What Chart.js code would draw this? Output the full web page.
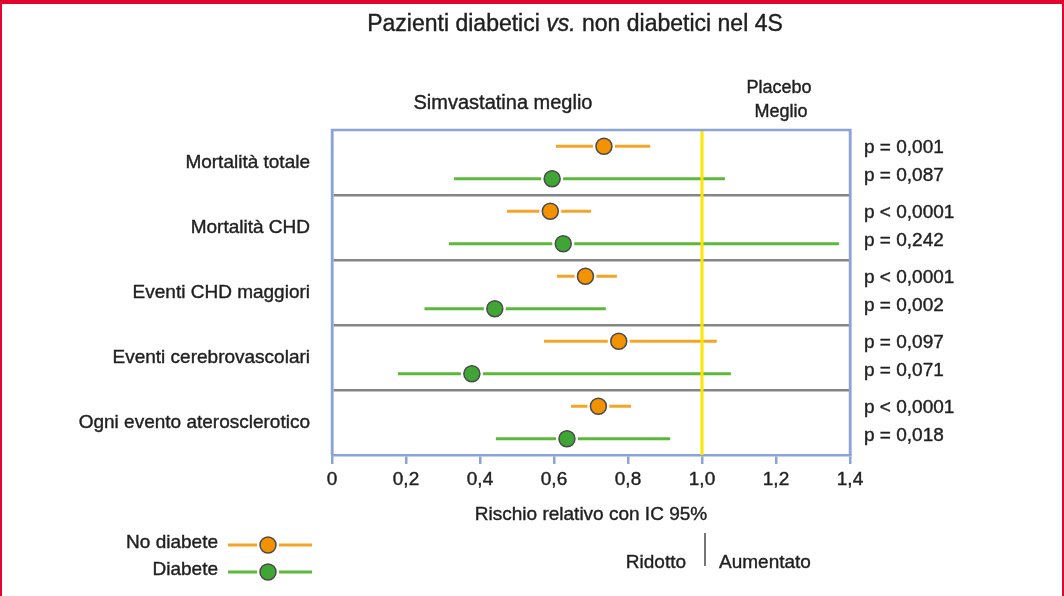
<!DOCTYPE html>
<html>
<head>
<meta charset="utf-8">
<script src="https://cdn.jsdelivr.net/npm/chart.js@4"></script>
<style>
  html, body { margin: 0; padding: 0; background: #fff; }
  #wrap { position: relative; width: 1064px; height: 596px; }
  #frame { position: absolute; left: 0; top: 0; width: 1064px; height: 596px; box-sizing: border-box;
           border-top: 4px solid #e2052d; border-left: 2px solid #e2052d; border-right: 2px solid #e2052d;
           pointer-events: none; }
</style>
</head>
<body>
<div id="wrap">
  <canvas id="forest" width="1064" height="596"></canvas>
  <div id="frame"></div>
</div>
<script>
const outcomes = ['Mortalità totale', 'Mortalità CHD', 'Eventi CHD maggiori', 'Eventi cerebrovascolari', 'Ogni evento aterosclerotico'];

// no diabete (orange)
const noDiabRR = [0.735, 0.59, 0.685, 0.775, 0.72];
const noDiabLo = [0.605, 0.473, 0.608, 0.573, 0.646];
const noDiabHi = [0.86, 0.70, 0.77, 1.04, 0.808];
const noDiabP = ['p = 0,001', 'p < 0,0001', 'p < 0,0001', 'p = 0,097', 'p < 0,0001'];

// diabete (green)
const diabRR = [0.595, 0.625, 0.44, 0.378, 0.635];
const diabLo = [0.33, 0.316, 0.25, 0.178, 0.443];
const diabHi = [1.062, 1.37, 0.74, 1.078, 0.914];
const diabP = ['p = 0,087', 'p = 0,242', 'p = 0,002', 'p = 0,071', 'p = 0,018'];

const xTicks = [0, 0.2, 0.4, 0.6, 0.8, 1.0, 1.2, 1.4];
const refValue = 1.0;

const ORANGE = '#f39200', ORANGE_LINE = '#f6a428';
const GREEN = '#3fa535', GREEN_LINE = '#5cb83a';
const BLUE = '#8aa3d8';
const TEXT = '#1f1f1f';
const FONT = "'Liberation Sans', Arial, sans-serif";

// orange sits in the upper quarter of each band, green in the lower quarter
const rowNo = outcomes.map((_, i) => i + 0.25);
const rowDi = outcomes.map((_, i) => i + 0.75);

const ciSets = [];
outcomes.forEach((_, i) => {
  ciSets.push({
    type: 'line', order: 3,
    data: [{ x: noDiabLo[i], y: rowNo[i] }, { x: noDiabHi[i], y: rowNo[i] }],
    borderColor: ORANGE_LINE, borderWidth: 3, pointRadius: 0
  });
  ciSets.push({
    type: 'line', order: 3,
    data: [{ x: diabLo[i], y: rowDi[i] }, { x: diabHi[i], y: rowDi[i] }],
    borderColor: GREEN_LINE, borderWidth: 3, pointRadius: 0
  });
});

const allPoints = noDiabRR.map((v, i) => ({ x: v, y: rowNo[i] }))
  .concat(diabRR.map((v, i) => ({ x: v, y: rowDi[i] })));

const datasets = [
  {
    type: 'scatter', order: 0,
    data: allPoints,
    pointRadius: 8, pointBorderWidth: 1.5, pointBorderColor: '#4a4a4a',
    pointBackgroundColor: allPoints.map((_, i) => i < noDiabRR.length ? ORANGE : GREEN)
  },
  {
    // white halo so the CI line stops short of the marker
    type: 'scatter', order: 1,
    data: allPoints,
    pointRadius: 11, pointBorderWidth: 0, pointBackgroundColor: '#ffffff'
  },
  {
    type: 'line', order: 2,
    data: [{ x: refValue, y: 0 }, { x: refValue, y: outcomes.length }],
    borderColor: '#ffe600', borderWidth: 3, pointRadius: 0
  }
].concat(ciSets);

// p-value labels on the right axis
const pLabels = [];
const pPositions = [];
outcomes.forEach((_, i) => {
  pLabels.push(noDiabP[i]); pPositions.push(i + 0.28);
  pLabels.push(diabP[i]); pPositions.push(i + 0.71);
});

function txt(ctx, s, x, y, align, size, style) {
  ctx.font = (style || '') + size + 'px ' + FONT;
  ctx.textAlign = align;
  ctx.textBaseline = 'middle';
  ctx.lineWidth = 0.4;
  ctx.strokeStyle = TEXT;
  ctx.fillStyle = TEXT;
  ctx.strokeText(s, x, y);
  ctx.fillText(s, x, y);
}

function drawLegendItem(ctx, label, y, lineColor, fill) {
  txt(ctx, label, 218, y - 2, 'right', 19);
  ctx.strokeStyle = lineColor;
  ctx.lineWidth = 3;
  ctx.beginPath(); ctx.moveTo(228, y); ctx.lineTo(312, y); ctx.stroke();
  ctx.fillStyle = '#fff';
  ctx.beginPath(); ctx.arc(268, y, 11, 0, Math.PI * 2); ctx.fill();
  ctx.fillStyle = fill;
  ctx.strokeStyle = '#4a4a4a';
  ctx.lineWidth = 1.5;
  ctx.beginPath(); ctx.arc(268, y, 8, 0, Math.PI * 2); ctx.fill(); ctx.stroke();
}

const annotations = {
  id: 'annotations',
  afterDraw(chart) {
    const ctx = chart.ctx;
    const area = chart.chartArea;
    ctx.save();

    // box top and right edges
    ctx.strokeStyle = BLUE;
    ctx.lineWidth = 2.5;
    ctx.beginPath();
    ctx.moveTo(area.left, area.bottom);
    ctx.lineTo(area.left, area.top);
    ctx.lineTo(area.right, area.top);
    ctx.lineTo(area.right, area.bottom);
    ctx.stroke();

    // title with italic "vs."
    const parts = [['Pazienti diabetici ', ''], ['vs.', 'italic '], [' non diabetici nel 4S', '']];
    let total = 0;
    parts.forEach(p => { ctx.font = p[1] + '23px ' + FONT; total += ctx.measureText(p[0]).width; });
    let tx = 575 - total / 2;
    parts.forEach(p => {
      txt(ctx, p[0], tx, 25, 'left', 23, p[1]);
      ctx.font = p[1] + '23px ' + FONT;
      tx += ctx.measureText(p[0]).width;
    });

    txt(ctx, 'Simvastatina meglio', 503, 103, 'center', 20);
    txt(ctx, 'Placebo', 779, 88, 'center', 18);
    txt(ctx, 'Meglio', 781, 112, 'center', 18);

    txt(ctx, 'Rischio relativo con IC 95%', (area.left + area.right) / 2, 515, 'center', 19);

    txt(ctx, 'Ridotto', 686, 563, 'right', 19);
    txt(ctx, 'Aumentato', 719, 563, 'left', 19);
    ctx.strokeStyle = '#777';
    ctx.lineWidth = 2;
    ctx.beginPath(); ctx.moveTo(705, 533); ctx.lineTo(705, 566); ctx.stroke();

    drawLegendItem(ctx, 'No diabete', 545, ORANGE_LINE, ORANGE);
    drawLegendItem(ctx, 'Diabete', 572, GREEN_LINE, GREEN);

    ctx.restore();
  }
};

new Chart(document.getElementById('forest'), {
  type: 'scatter',
  data: { datasets: datasets },
  options: {
    responsive: false,
    animation: false,
    devicePixelRatio: 1,
    layout: { padding: { top: 130, left: 0, right: 0, bottom: 0 } },
    plugins: { legend: { display: false }, tooltip: { enabled: false } },
    scales: {
      x: {
        type: 'linear', position: 'bottom', min: 0, max: 1.4,
        afterBuildTicks: s => { s.ticks = xTicks.map(v => ({ value: v })); },
        afterFit: s => { s.height = 141; },
        ticks: {
          color: TEXT, font: { size: 19, family: FONT }, padding: 4,
          textStrokeColor: TEXT, textStrokeWidth: 0.4,
          callback: v => v === 0 ? '0' : v.toFixed(1).replace('.', ',')
        },
        grid: { drawOnChartArea: false, color: BLUE, lineWidth: 2.5, tickLength: 9 },
        border: { color: BLUE, width: 2.5 }
      },
      y: {
        type: 'linear', position: 'left', min: 0, max: outcomes.length, reverse: true,
        afterBuildTicks: s => {
          const t = [];
          for (let i = 0; i <= outcomes.length * 2; i++) t.push({ value: i / 2 });
          s.ticks = t;
        },
        afterFit: s => { s.width = 332; },
        ticks: {
          color: TEXT, font: { size: 19, family: FONT }, padding: 22,
          textStrokeColor: TEXT, textStrokeWidth: 0.4,
          callback: v => Number.isInteger(v) ? '' : outcomes[Math.floor(v)]
        },
        grid: {
          drawTicks: false,
          lineWidth: 2.5,
          color: c => (c.tick && Number.isInteger(c.tick.value) && c.tick.value > 0 && c.tick.value < outcomes.length) ? '#858585' : 'rgba(0,0,0,0)'
        },
        border: { color: BLUE, width: 2.5 }
      },
      yP: {
        type: 'linear', position: 'right', min: 0, max: outcomes.length, reverse: true,
        afterBuildTicks: s => { s.ticks = pPositions.map(v => ({ value: v })); },
        afterFit: s => { s.width = 214; },
        ticks: {
          color: TEXT, font: { size: 19, family: FONT }, padding: 14,
          textStrokeColor: TEXT, textStrokeWidth: 0.4,
          callback: (v, i) => pLabels[i]
        },
        grid: { display: false, drawTicks: false },
        border: { color: BLUE, width: 2.5 }
      }
    }
  },
  plugins: [annotations]
});
</script>
</body>
</html>
